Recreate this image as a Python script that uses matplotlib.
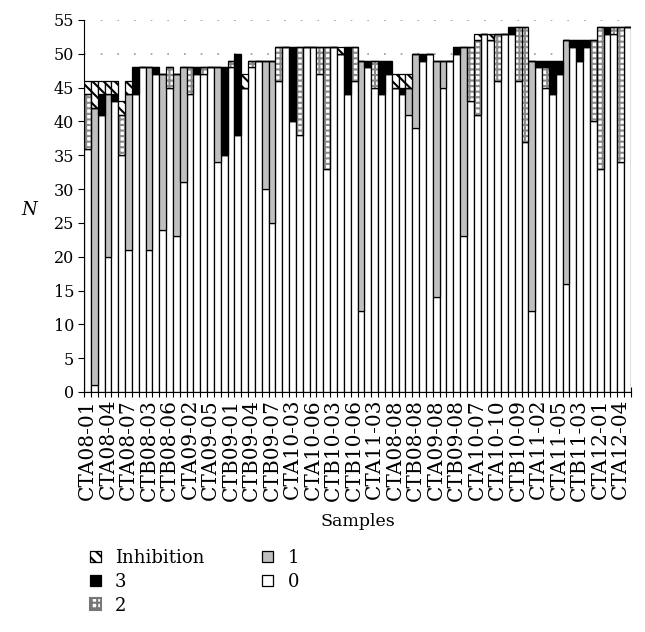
import numpy as np
import matplotlib
matplotlib.use("Agg")
import matplotlib.pyplot as plt
import matplotlib.patches as mpatches

plt.rcParams['font.family'] = 'DejaVu Serif'
plt.rcParams['hatch.linewidth'] = 1.5

# подписи по оси X (каждый третий образец)
tick_labels = ["CTA08-01", "CTA08-04", "CTA08-07", "CTB08-03", "CTB08-06",
               "CTA09-02", "CTA09-05", "CTB09-01", "CTB09-04", "CTB09-07",
               "CTA10-03", "CTA10-06", "CTB10-03", "CTB10-06", "CTA11-03",
               "CTA08-08", "CTB08-08", "CTA09-08", "CTB09-08", "CTA10-07",
               "CTA10-10", "CTB10-09", "CTA11-02", "CTA11-05", "CTB11-03",
               "CTA12-01", "CTA12-04"]

# значения по категориям (снизу вверх: 0, 1, 2, 3, Inhibition)
zero = [36, 1, 41, 20, 43, 35, 21, 44, 48, 21, 47, 24, 45, 23, 31, 44, 47, 47, 48, 34,
        35, 48, 38, 45, 48, 49, 30, 25, 46, 51, 40, 38, 51, 51, 47, 33, 51, 50, 44, 46,
        12, 48, 45, 44, 47, 45, 44, 41, 39, 49, 50, 14, 45, 49, 50, 23, 43, 41, 53, 52,
        46, 53, 53, 46, 37, 12, 48, 45, 44, 47, 16, 51, 49, 51, 40, 33, 53, 53, 34, 54]
one = [0, 41, 0, 24, 0, 0, 23, 0, 0, 27, 0, 23, 0, 24, 17, 0, 0, 0, 0, 14,
       0, 0, 0, 0, 0, 0, 19, 24, 0, 0, 0, 0, 0, 0, 0, 0, 0, 0, 0, 0,
       37, 0, 0, 0, 0, 0, 0, 4, 11, 0, 0, 35, 4, 0, 0, 28, 0, 0, 0, 0,
       0, 0, 0, 0, 0, 37, 0, 0, 0, 0, 36, 0, 0, 0, 0, 0, 0, 0, 0, 0]
two = [8, 0, 0, 0, 0, 6, 0, 0, 0, 0, 0, 0, 3, 0, 0, 4, 0, 1, 0, 0,
       0, 1, 0, 0, 1, 0, 0, 0, 5, 0, 0, 13, 0, 0, 4, 18, 0, 0, 0, 5,
       0, 0, 4, 0, 0, 0, 0, 0, 0, 0, 0, 0, 0, 0, 0, 0, 8, 11, 0, 0,
       7, 0, 0, 8, 17, 0, 0, 3, 0, 0, 0, 0, 0, 0, 12, 21, 0, 1, 20, 0]
three = [0, 0, 3, 0, 1, 0, 0, 4, 0, 0, 1, 0, 0, 0, 0, 0, 1, 0, 0, 0,
         13, 0, 12, 0, 0, 0, 0, 0, 0, 0, 11, 0, 0, 0, 0, 0, 0, 0, 7, 0,
         0, 1, 0, 5, 2, 0, 1, 0, 0, 1, 0, 0, 0, 0, 1, 0, 0, 0, 0, 0,
         0, 0, 1, 0, 0, 0, 1, 1, 5, 2, 0, 1, 3, 1, 0, 0, 1, 0, 0, 0]
inhib = [2, 4, 2, 2, 2, 2, 2, 0, 0, 0, 0, 0, 0, 0, 0, 0, 0, 0, 0, 0,
         0, 0, 0, 2, 0, 0, 0, 0, 0, 0, 0, 0, 0, 0, 0, 0, 0, 1, 0, 0,
         0, 0, 0, 0, 0, 2, 2, 2, 0, 0, 0, 0, 0, 0, 0, 0, 0, 1, 0, 1,
         0, 0, 0, 0, 0, 0, 0, 0, 0, 0, 0, 0, 0, 0, 0, 0, 0, 0, 0, 0]

x = np.arange(len(zero))
EDGE = 0.9

fig = plt.figure(figsize=(6.45, 6.32), dpi=100)
ax = fig.add_axes([84 / 645, 1 - 392 / 632, 547 / 645, 372 / 632])

bottom = np.zeros(len(x))
ax.bar(x, zero, 1.0, bottom=bottom, color='white', edgecolor='black', lw=EDGE, zorder=2)
bottom += np.array(zero)
ax.bar(x, one, 1.0, bottom=bottom, color='#c0c0c0', edgecolor='black', lw=EDGE, zorder=2)
bottom += np.array(one)
# сетка для "2": сначала штриховка серым, потом чёрный контур
ax.bar(x, two, 1.0, bottom=bottom, color='white', edgecolor='#8a8a8a', hatch='+++', lw=0, zorder=2)
ax.bar(x, two, 1.0, bottom=bottom, fill=False, edgecolor='black', lw=EDGE, zorder=3)
bottom += np.array(two)
ax.bar(x, three, 1.0, bottom=bottom, color='black', edgecolor='black', lw=EDGE, zorder=2)
bottom += np.array(three)
ax.bar(x, inhib, 1.0, bottom=bottom, color='white', edgecolor='black', hatch='\\\\\\', lw=EDGE, zorder=2)

# оси
ax.set_xlim(-0.5, len(x) - 0.5)
ax.set_ylim(0, 55)
ax.set_yticks(np.arange(0, 56, 5))
ax.tick_params(axis='y', labelsize=11.5, direction='out', length=4, width=0.8, pad=3)
ax.set_xticks(x[::3])
ax.set_xticklabels(tick_labels, rotation=90, fontsize=14.5)
ax.set_xticks(np.arange(-0.5, len(x), 1), minor=True)
ax.tick_params(axis='x', which='major', length=0, pad=5)
ax.tick_params(axis='x', which='minor', direction='inout', length=7, width=0.8)
ax.spines['top'].set_visible(False)
ax.spines['right'].set_visible(False)
ax.yaxis.grid(True, linestyle=(0, (1, 9)), color='#999999', lw=1.2)
ax.set_axisbelow(True)

ax.set_xlabel('Samples', fontsize=12.5)
ax.xaxis.set_label_coords(0.5, -0.325)
ax.set_ylabel('N', fontsize=13, style='italic', rotation=0, va='center', ha='center')
ax.yaxis.set_label_coords(-0.1, 0.49)

# легенда
handles = [
    mpatches.Patch(facecolor='white', edgecolor='black', hatch='\\\\\\', lw=0.9),
    mpatches.Patch(facecolor='black', edgecolor='black', lw=0.9),
    mpatches.Patch(facecolor='white', edgecolor='#777777', hatch='+++', lw=1.5),
    mpatches.Patch(facecolor='#c0c0c0', edgecolor='black', lw=0.9),
    mpatches.Patch(facecolor='white', edgecolor='black', lw=0.9),
]
fig.legend(handles, ['Inhibition', '3', '2', '1', '0'], ncol=2, frameon=False,
           loc='upper left', bbox_to_anchor=(0.114, 0.157), fontsize=13,
           handlelength=0.6, handleheight=0.6, handletextpad=0.8,
           columnspacing=3.2, labelspacing=0.32)

fig.savefig('out.png', dpi=100)
